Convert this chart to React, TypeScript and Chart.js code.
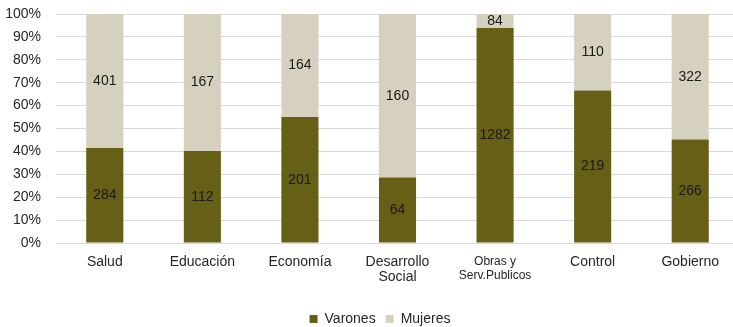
import React, { useEffect, useRef } from "react";
import { Chart, registerables } from "chart.js";

Chart.register(...registerables);

const categories: (string | string[])[] = [
  "Salud",
  "Educación",
  "Economía",
  ["Desarrollo", "Social"],
  ["Obras y", "Serv.Publicos"],
  "Control",
  "Gobierno",
];
const varones = [284, 112, 201, 64, 1282, 219, 266];
const mujeres = [401, 167, 164, 160, 84, 110, 322];
const seriesNames = ["Varones", "Mujeres"];
const yTicks = [0, 10, 20, 30, 40, 50, 60, 70, 80, 90, 100];

const FONT = "'Liberation Sans', Arial, sans-serif";
const TEXT = "#262626";
const C_VAR = "#665f16";
const C_MUJ = "#d6d1bf";

const totals = varones.map((v, i) => v + mujeres[i]);
const varPct = varones.map((v, i) => (v / totals[i]) * 100);
const mujPct = mujeres.map((m, i) => (m / totals[i]) * 100);
const rawCounts = [varones, mujeres];

const valueLabels = {
  id: "valueLabels",
  afterDatasetsDraw(chart: any) {
    const ctx = chart.ctx;
    ctx.save();
    ctx.font = `14px ${FONT}`;
    ctx.fillStyle = "#1a1a1a";
    ctx.textAlign = "center";
    ctx.textBaseline = "middle";
    chart.data.datasets.forEach((ds: any, di: number) => {
      const meta = chart.getDatasetMeta(di);
      meta.data.forEach((bar: any, i: number) => {
        const y = (bar.y + bar.base) / 2;
        ctx.fillText(String(rawCounts[di][i]), bar.x, y);
      });
    });
    ctx.restore();
  },
};

const legendShift = {
  id: "legendShift",
  afterLayout(chart: any) {
    const lg = chart.legend;
    if (lg) {
      lg.left += 8;
      lg.right += 8;
    }
  },
};

export default function App() {
  const ref = useRef<HTMLCanvasElement>(null);
  useEffect(() => {
    if (!ref.current) return;
    const chart = new Chart(ref.current, {
      type: "bar",
      data: {
        labels: categories,
        datasets: [
          {
            label: seriesNames[0],
            data: varPct,
            backgroundColor: C_VAR,
            borderWidth: 0,
            barPercentage: 0.38,
            categoryPercentage: 1,
          },
          {
            label: seriesNames[1],
            data: mujPct,
            backgroundColor: C_MUJ,
            borderWidth: 0,
            barPercentage: 0.38,
            categoryPercentage: 1,
          },
        ],
      },
      options: {
        animation: false,
        responsive: true,
        maintainAspectRatio: false,
        layout: { padding: { left: 5, right: 7, top: 14, bottom: 0 } },
        plugins: {
          tooltip: { enabled: false },
          legend: {
            position: "bottom",
            labels: {
              boxWidth: 8,
              boxHeight: 8,
              padding: 10,
              color: TEXT,
              font: { size: 14, family: FONT },
            },
          },
        },
        scales: {
          x: {
            stacked: true,
            grid: { display: false, drawTicks: false },
            border: { display: false },
            ticks: {
              color: TEXT,
              padding: 12,
              maxRotation: 0,
              autoSkip: false,
              font: (c: any) =>
                c.index === 4
                  ? { size: 12, family: FONT, lineHeight: 1.17 }
                  : { size: 14, family: FONT, lineHeight: 1.07 },
            },
            afterFit: (s: any) => {
              s.height = 59;
            },
          },
          y: {
            stacked: true,
            min: 0,
            max: 100,
            afterBuildTicks: (s: any) => {
              s.ticks = yTicks.map((v) => ({ value: v }));
            },
            grid: { color: "#d9d9d9", drawTicks: false, lineWidth: 1 },
            border: { display: false },
            ticks: {
              color: TEXT,
              padding: 15,
              font: { size: 14, family: FONT },
              callback: (v: any) => `${v}%`,
            },
            afterFit: (s: any) => {
              s.width = 51;
              s.paddingTop = 0;
            },
          },
        },
      },
      plugins: [valueLabels, legendShift],
    });
    return () => chart.destroy();
  }, []);

  return (
    <div
      style={{
        position: "fixed",
        left: 0,
        top: 0,
        width: 733,
        height: 327,
        overflow: "hidden",
        background: "#fff",
      }}
    >
      <div style={{ position: "relative", width: 746, height: 336 }}>
        <canvas ref={ref} />
      </div>
    </div>
  );
}
